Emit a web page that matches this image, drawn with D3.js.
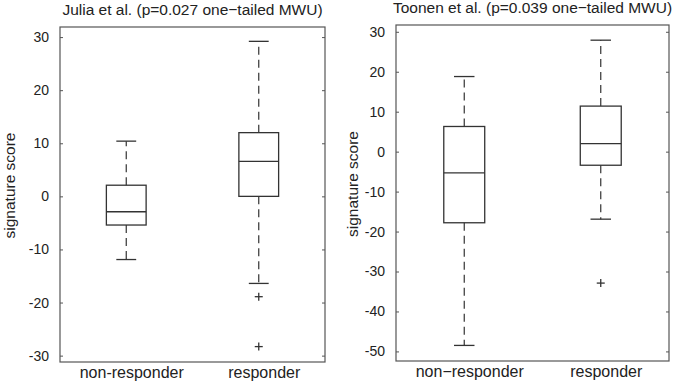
<!DOCTYPE html>
<html>
<head>
<meta charset="utf-8">
<script src="https://cdn.jsdelivr.net/npm/d3@7"></script>
<style>
  body { margin: 0; background: #fff; }
  svg text { font-family: "Liberation Sans", Arial, sans-serif; fill: #222; }
</style>
</head>
<body>
<div class="canvas"></div>
<script>
// ---- data ----
const juliaCategories = ['non-responder', 'responder'];
const juliaLowWhisker = [-11.9, -16.4];
const juliaQ1 = [-5.4, 0.0];
const juliaMedian = [-2.9, 6.6];
const juliaQ3 = [2.1, 12.0];
const juliaHighWhisker = [10.4, 29.2];
const juliaOutliers = [[], [-18.9, -28.3]];
const juliaTicks = [-30, -20, -10, 0, 10, 20, 30];
const juliaYLim = [-31.2, 31.9];

const toonenCategories = ['non\u2212responder', 'responder'];
const toonenLowWhisker = [-48.5, -16.9];
const toonenQ1 = [-17.8, -3.4];
const toonenMedian = [-5.3, 2.0];
const toonenQ3 = [6.3, 11.4];
const toonenHighWhisker = [18.8, 27.9];
const toonenOutliers = [[], [-32.9]];
const toonenTicks = [-50, -40, -30, -20, -10, 0, 10, 20, 30];
const toonenYLim = [-52.4, 31.7];

const svg = d3.select('.canvas')
  .append('svg')
  .attr('width', 676)
  .attr('height', 386)

const lineColor = '#333';

const drawPanel = (opts) => {
  const { box, title, categories, low, q1, med, q3, high, outliers, ticks, ylim, labelOffset } = opts;

  const x = d3.scaleLinear().domain([0.5, 2.5]).range([box.left, box.right]);
  const y = d3.scaleLinear().domain(ylim).range([box.bottom, box.top]);

  const g = svg.append('g');

  // y axis, ticks pointing inward
  g.append('g')
    .attr('transform', `translate(${box.left},0)`)
    .call(d3.axisLeft(y).tickValues(ticks).tickSize(-3).tickPadding(11).tickFormat(d => String(d)))
    .call(a => a.select('.domain').remove())
    .call(a => a.selectAll('line').attr('stroke', '#555'))
    .call(a => a.selectAll('text').attr('font-size', 14).attr('fill', '#222'));

  // mirrored ticks on the right edge
  g.append('g')
    .attr('transform', `translate(${box.right},0)`)
    .call(d3.axisRight(y).tickValues(ticks).tickSize(-3).tickFormat(''))
    .call(a => a.select('.domain').remove())
    .call(a => a.selectAll('line').attr('stroke', '#555'));

  // category labels
  g.append('g')
    .attr('transform', `translate(0,${box.bottom})`)
    .call(d3.axisBottom(x).tickValues([1, 2]).tickSize(0).tickPadding(5).tickFormat(d => categories[d - 1]))
    .call(a => a.select('.domain').remove())
    .call(a => a.selectAll('text').attr('font-size', 16).attr('dx', 5).attr('fill', '#222'));

  // frame
  g.append('rect')
    .attr('x', box.left)
    .attr('y', box.top)
    .attr('width', box.right - box.left)
    .attr('height', box.bottom - box.top)
    .attr('fill', 'none')
    .attr('stroke', '#555')
    .attr('stroke-width', 1.2);

  const idx = categories.map((c, i) => i);
  const boxW = (x(1.15) - x(1)) ;
  const capW = (x(1.075) - x(1));

  // whiskers (dashed)
  g.selectAll('.whiskerHi').data(idx).enter().append('line')
    .attr('x1', i => x(i + 1)).attr('x2', i => x(i + 1))
    .attr('y1', i => y(q3[i])).attr('y2', i => y(high[i]))
    .attr('stroke', lineColor).attr('stroke-width', 1.2).attr('stroke-dasharray', '8,5');
  g.selectAll('.whiskerLo').data(idx).enter().append('line')
    .attr('x1', i => x(i + 1)).attr('x2', i => x(i + 1))
    .attr('y1', i => y(q1[i])).attr('y2', i => y(low[i]))
    .attr('stroke', lineColor).attr('stroke-width', 1.2).attr('stroke-dasharray', '8,5');

  // caps
  [high, low].forEach(arr => {
    g.selectAll(null).data(idx).enter().append('line')
      .attr('x1', i => x(i + 1) - capW).attr('x2', i => x(i + 1) + capW)
      .attr('y1', i => y(arr[i])).attr('y2', i => y(arr[i]))
      .attr('stroke', lineColor).attr('stroke-width', 1.3);
  });

  // boxes
  g.selectAll('.box').data(idx).enter().append('rect')
    .attr('x', i => x(i + 1) - boxW)
    .attr('y', i => y(q3[i]))
    .attr('width', boxW * 2)
    .attr('height', i => y(q1[i]) - y(q3[i]))
    .attr('fill', 'none')
    .attr('stroke', lineColor)
    .attr('stroke-width', 1.3);

  // medians
  g.selectAll('.median').data(idx).enter().append('line')
    .attr('x1', i => x(i + 1) - boxW).attr('x2', i => x(i + 1) + boxW)
    .attr('y1', i => y(med[i])).attr('y2', i => y(med[i]))
    .attr('stroke', lineColor).attr('stroke-width', 1.3);

  // outliers as '+'
  const pts = [];
  outliers.forEach((list, i) => list.forEach(v => pts.push({ i, v })));
  const plus = g.selectAll('.outlier').data(pts).enter().append('g')
    .attr('transform', d => `translate(${x(d.i + 1)},${y(d.v)})`);
  plus.append('line').attr('x1', -4).attr('x2', 4).attr('y1', 0).attr('y2', 0)
    .attr('stroke', lineColor).attr('stroke-width', 1.3);
  plus.append('line').attr('x1', 0).attr('x2', 0).attr('y1', -4).attr('y2', 4)
    .attr('stroke', lineColor).attr('stroke-width', 1.3);

  // title
  g.append('text')
    .attr('x', (box.left + box.right) / 2)
    .attr('y', box.top - 12)
    .attr('text-anchor', 'middle')
    .attr('font-size', 15.5)
    .text(title);

  // y label
  g.append('text')
    .attr('transform', `translate(${box.left - labelOffset},${(box.top + box.bottom) / 2 - 9}) rotate(-90)`)
    .attr('text-anchor', 'middle')
    .attr('font-size', 15.5)
    .text('signature score');
};

drawPanel({
  box: { left: 60, right: 325, top: 27, bottom: 362 },
  title: 'Julia et al. (p=0.027 one\u2212tailed MWU)',
  categories: juliaCategories,
  low: juliaLowWhisker, q1: juliaQ1, med: juliaMedian, q3: juliaQ3, high: juliaHighWhisker,
  outliers: juliaOutliers, ticks: juliaTicks, ylim: juliaYLim, labelOffset: 45
});

drawPanel({
  box: { left: 396, right: 669, top: 25, bottom: 361 },
  title: 'Toonen et al. (p=0.039 one\u2212tailed MWU)',
  categories: toonenCategories,
  low: toonenLowWhisker, q1: toonenQ1, med: toonenMedian, q3: toonenQ3, high: toonenHighWhisker,
  outliers: toonenOutliers, ticks: toonenTicks, ylim: toonenYLim, labelOffset: 38
});
</script>
</body>
</html>
